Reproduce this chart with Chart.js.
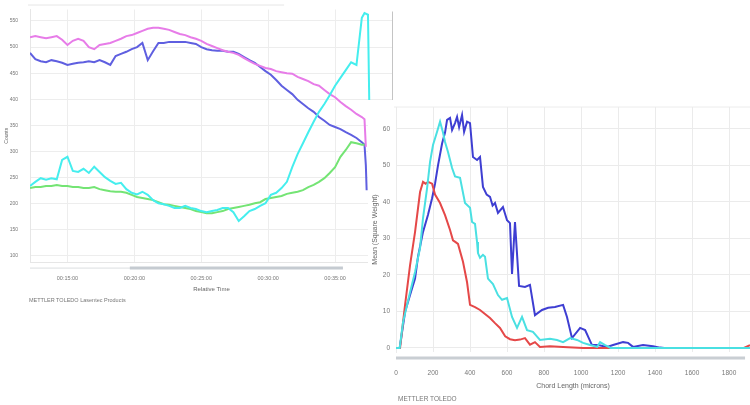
<!DOCTYPE html>
<html><head><meta charset="utf-8">
<script src="https://cdn.jsdelivr.net/npm/chart.js@4/dist/chart.umd.min.js"></script>
<style>
html,body{margin:0;padding:0;background:#fff;}
#wrap{position:relative;width:750px;height:405px;overflow:hidden;background:#fff;font-family:"Liberation Sans",Arial,sans-serif;filter:blur(0.3px);}
#c1{position:absolute;left:0;top:0;}
#box2{position:absolute;left:368px;top:100px;width:382px;height:305px;background:#fff;}
#c2{position:absolute;left:0;top:0;}
.foot{position:absolute;color:#777;white-space:nowrap;line-height:1;}
</style></head><body>
<div id="wrap">
<canvas id="c1" width="400" height="300"></canvas>
<div class="foot" style="left:29px;top:298px;font-size:5.5px;">METTLER TOLEDO Lasentec Products</div>
<div id="box2"><canvas id="c2" width="382" height="305"></canvas>
<div class="foot" style="left:30px;top:296px;font-size:6.5px;">METTLER TOLEDO</div></div>
</div>
<script>
// ---------- Left chart: trend vs relative time (minutes) ----------
const timeMin = [12.2,12.6,13.0,13.4,13.8,14.2,14.6,15.0,15.4,15.8,16.2,16.6,17.0,17.4,17.8,18.2,18.6,19.0,19.4,19.8,20.2,20.6,21.0,21.4,21.8,22.2,22.6,23.0,23.4,23.8,24.2,24.6,25.0,25.4,25.8,26.2,26.6,27.0,27.4,27.8,28.2,28.6,29.0,29.4,29.8,30.2,30.6,31.0,31.4,31.8,32.2,32.6,33.0,33.4,33.8,34.2,34.6,35.0,35.4,35.8,36.2,36.6,37.0,37.2];
const pinkSeries = [519,521,519,517,519,521,514,504,512,516,512,500,496,504,506,508,512,516,521,523,527,531,535,537,537,535,533,529,525,523,519,516,512,506,502,498,494,491,489,485,479,473,468,464,460,458,454,452,450,449,443,439,435,429,426,418,410,404,395,387,380,372,366,362];
const violetSeries = [489,477,473,471,475,473,470,466,468,470,471,473,471,475,471,466,483,487,491,496,500,508,475,492,508,508,510,510,510,510,508,506,500,496,494,493,493,491,491,487,481,475,470,462,454,447,437,426,418,410,399,391,383,376,366,359,351,347,343,337,332,326,318,313];
const cyanSeries = [234,242,249,246,249,247,284,290,263,261,267,259,271,261,251,244,238,240,228,221,218,223,217,207,201,199,196,192,192,196,192,190,186,184,186,188,192,192,184,167,176,186,190,196,201,217,221,230,242,270,295,316,337,357,376,391,408,426,441,456,471,466,556,565];
const greenSeries = [230,232,232,234,234,236,234,234,232,232,230,230,232,228,226,224,223,223,221,217,213,211,209,207,203,199,198,196,194,192,190,186,184,182,182,184,186,190,192,194,196,198,201,203,209,211,213,215,219,221,223,226,232,236,242,249,259,270,290,303,318,316,313,313];
const pinkTailT = [37.3], pinkTail = [309];
const violetTailT = [37.3, 37.36], violetTail = [274, 226];
const cyanTailT = [37.46, 37.61], cyanTail = [562, 300];
const timeTicks = [15, 20, 25, 30, 35];
const countTicks = [100, 150, 200, 250, 300, 350, 400, 450, 500, 550];

// ---------- Right chart: chord length distribution ----------
const chordTicks = [0, 200, 400, 600, 800, 1000, 1200, 1400, 1600, 1800];
const weightTicks = [0, 10, 20, 30, 40, 50, 60];
const redX = [0,22,49,76,103,130,146,160,173,195,211,238,265,292,308,322,335,362,384,400,427,454,481,508,535,562,590,616,643,670,697,724,751,778,832,903,1011,1200,1880,1913];
const redY = [0,0,11.8,22.7,31.8,42.7,45.5,45,45.5,45,42,39.7,36.4,32.3,29.5,29,28.5,23.6,18,11.8,11.2,10.4,9.3,8.2,6.8,5.5,3.2,2.4,2.1,2.3,2.7,0.9,1.6,0.3,0.5,0.3,0,0,0,0.8];
const cyanX = [0,20,38,76,103,130,146,168,184,200,222,238,254,265,281,303,319,346,373,400,411,427,438,443,454,470,481,497,524,551,573,600,627,654,681,708,740,778,832,870,903,941,978,1011,1049,1087,1103,1130,1160,1913];
const cyanY = [0,0,7.1,15.3,20.8,27.4,35.6,43.8,51,55.6,59.2,62,59,56.4,53.7,49.3,47,46.6,39.7,38.4,34.5,34,29,26,24.7,25.5,25,19,17.5,14.5,13.2,13.7,8.5,5.5,8.5,4.9,4.4,2.2,2.5,2.2,1.6,2.7,2.2,1.4,0.8,0.3,1.6,0.8,0,0];
const blueX = [0,20,49,76,103,119,146,173,195,211,227,249,265,276,292,303,319,330,341,357,368,384,400,416,438,454,470,490,508,522,535,551,578,600,616,627,643,665,697,724,751,789,822,859,903,924,951,995,1022,1059,1092,1141,1173,1227,1254,1281,1335,1389,1427,1450,1913];
const blueY = [0,0,9.9,14.5,19,25,31.8,36.5,41,45,50,56,59,62.5,63,59.7,61.6,63.3,60.5,63.8,59.2,62,61.6,52.3,51.5,52.3,44.1,42,41.4,39,39.7,37,38.6,35,34.2,20.3,34.5,17,16.7,17.3,9,10.4,11,11.2,11.8,8.5,2.7,5.5,4.9,0.8,0.8,0.3,0.8,1.6,1.4,0.3,0.8,0.5,0.1,0,0];

function pts(xs, ys) { return xs.map((x, i) => ({ x: x, y: ys[i] })); }
function fmtTime(v) {
  const m = Math.floor(v), s = Math.round((v - m) * 60);
  const p = n => String(n).padStart(2, '0');
  return '00:' + p(m) + ':' + p(s);
}
function line(data, color, w) {
  return { data: data, borderColor: color, borderWidth: w, pointRadius: 0, tension: 0, fill: false };
}

const decor = {
  id: 'decor',
  afterDraw(chart, args, o) {
    const { ctx, chartArea: a } = chart;
    const w = a.right - a.left;
    ctx.save();
    if (o.scroll) {
      const s = o.scroll, y = a.bottom + s.gap;
      ctx.fillStyle = s.track;
      ctx.fillRect(a.left + w * s.t0, y - 0.5, w * (s.t1 - s.t0), 1.2);
      ctx.fillStyle = s.thumb;
      ctx.fillRect(a.left + w * s.h0, y - 1.5, w * (s.h1 - s.h0), 3);
    }
    if (o.rightEdge) {
      ctx.strokeStyle = o.rightEdge; ctx.lineWidth = 1;
      ctx.beginPath(); ctx.moveTo(a.right - 0.5, a.top + 2); ctx.lineTo(a.right - 0.5, a.bottom); ctx.stroke();
    }
    if (o.topLine) {
      ctx.strokeStyle = o.topLine.color; ctx.lineWidth = 1;
      ctx.beginPath(); ctx.moveTo(a.left - 2, a.top + o.topLine.dy); ctx.lineTo(a.left + w * o.topLine.frac, a.top + o.topLine.dy); ctx.stroke();
    }
    ctx.restore();
  }
};

const FONT = '"Liberation Sans", Arial, sans-serif';
Chart.defaults.font.family = FONT;
const HIDE = 'rgba(0,0,0,0)';

new Chart(document.getElementById('c1'), {
  type: 'line',
  data: { datasets: [
    line(pts(timeMin.concat(cyanTailT), cyanSeries.concat(cyanTail)), '#45eeee', 2),
    line(pts(timeMin, greenSeries), '#74e474', 2),
    line(pts(timeMin.concat(pinkTailT), pinkSeries.concat(pinkTail)), '#e77ce8', 2),
    line(pts(timeMin.concat(violetTailT), violetSeries.concat(violetTail)), '#5f5fe0', 2)
  ] },
  options: {
    responsive: false, animation: false, events: [],
    layout: { padding: { left: 0, right: 7, top: 9.5, bottom: 0 } },
    plugins: { legend: { display: false }, tooltip: { enabled: false },
      decor: { scroll: { gap: 6, t0: 0, t1: 0.862, h0: 0.275, h1: 0.862, track: '#e2e4e6', thumb: '#c5cbd1' },
               rightEdge: '#c4c4c4', topLine: { color: '#e6e6e6', dy: -4.5, frac: 0.70 } } },
    scales: {
      x: { type: 'linear', min: 12.2, max: 39.33,
        afterBuildTicks: s => { s.ticks = timeTicks.map(v => ({ value: v })); },
        afterFit: s => { s.height = 38; },
        ticks: { callback: v => fmtTime(v), font: { size: 5.5 }, color: '#777', padding: 0, maxRotation: 0, autoSkip: false },
        grid: { color: '#ededed', drawTicks: true, tickLength: 13, tickColor: HIDE }, border: { color: '#e6e6e6' },
        title: { display: true, text: 'Relative Time', font: { size: 6 }, color: '#666', padding: { top: 0, bottom: 7.4 } } },
      y: { min: 88.5, max: 572,
        afterBuildTicks: s => { s.ticks = countTicks.map(v => ({ value: v })); },
        afterFit: s => { s.width = 30; },
        ticks: { callback: v => String(v), font: { size: 5 }, color: '#777', padding: 0 },
        grid: { color: '#ededed', drawTicks: true, tickLength: 12, tickColor: HIDE }, border: { color: '#e6e6e6' },
        title: { display: true, text: 'Counts', font: { size: 5 }, color: '#666', padding: { top: 4, bottom: 0 } } }
    }
  },
  plugins: [decor]
});

new Chart(document.getElementById('c2'), {
  type: 'line',
  data: { datasets: [
    line(pts(cyanX, cyanY), '#4ae0e2', 2),
    line(pts(redX, redY), '#e54848', 2),
    line(pts(blueX, blueY), '#3e3ed2', 2)
  ] },
  options: {
    responsive: false, animation: false, events: [],
    layout: { padding: { left: 0, right: 0, top: 7, bottom: 0 } },
    plugins: { legend: { display: false }, tooltip: { enabled: false },
      decor: { scroll: { gap: 6, t0: 0, t1: 0.986, h0: 0, h1: 0.986, track: '#dde0e3', thumb: '#c9ced3' },
               topLine: { color: '#ececec', dy: 0, frac: 1 } } },
    scales: {
      x: { type: 'linear', min: 0, max: 1913,
        afterBuildTicks: s => { s.ticks = chordTicks.map(v => ({ value: v })); },
        afterFit: s => { s.height = 53; },
        ticks: { callback: v => String(v), font: { size: 6.5 }, color: '#777', padding: 0, maxRotation: 0, autoSkip: false },
        grid: { color: '#ebebeb', drawTicks: true, tickLength: 17.5, tickColor: HIDE }, border: { display: false },
        title: { display: true, text: 'Chord Length (microns)', font: { size: 7 }, color: '#666', padding: { top: 0, bottom: 14.8 } } },
      y: { min: -1.1, max: 66,
        afterBuildTicks: s => { s.ticks = weightTicks.map(v => ({ value: v })); },
        afterFit: s => { s.width = 28; },
        ticks: { callback: v => String(v), font: { size: 6.5 }, color: '#777', padding: 0 },
        grid: { color: '#ebebeb', drawTicks: true, tickLength: 6, tickColor: HIDE }, border: { color: '#ebebeb' },
        title: { display: true, text: 'Mean (Square Weight)', font: { size: 7 }, color: '#666', padding: { top: 3, bottom: 0 } } }
    }
  },
  plugins: [decor]
});
</script>
</body></html>
